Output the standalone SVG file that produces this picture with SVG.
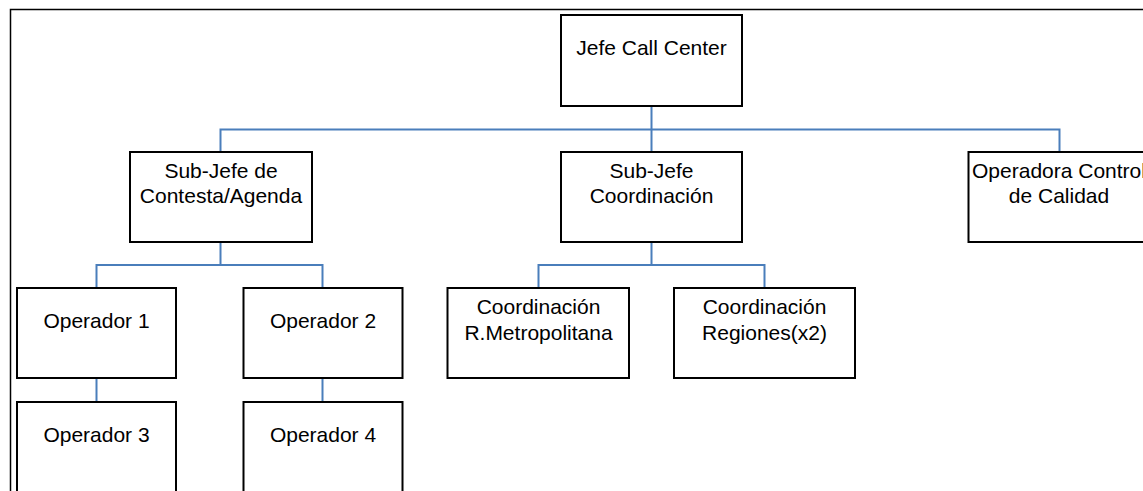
<svg xmlns="http://www.w3.org/2000/svg" width="1143" height="491" viewBox="0 0 1143 491">
<style>
.box{fill:#fff;stroke:#000;stroke-width:2}
.t{font-family:"Liberation Sans",Arial,sans-serif;font-size:21px;fill:#000;text-anchor:middle}
.c{fill:none;stroke:#4A7EBB;stroke-width:2}
.frame{fill:none;stroke:#000;stroke-width:1.5}
</style>
<rect width="1143" height="491" fill="#fff"/>
<path class="frame" d="M10.5 491 V9.5 H1143"/>
<g id="connectors">
<path class="c" d="M651.5 106 V152 M220.5 152 V129.5 H1059.5 V152"/>
<path class="c" d="M220.5 242 V265 M96.5 288 V265 H322.5 V288"/>
<path class="c" d="M651.5 242 V265 M538.5 288 V265 H764.5 V288"/>
<path class="c" d="M96.5 378 V402 M322.5 378 V402"/>
</g>
<g id="jefe"><rect class="box" x="561" y="15" width="181" height="91"/><text class="t" x="651.5" y="55">Jefe Call Center</text></g>
<g id="subjefe-contesta"><rect class="box" x="130" y="152" width="182" height="90"/><text class="t" x="221" y="177.5">Sub-Jefe de</text><text class="t" x="221" y="203">Contesta/Agenda</text></g>
<g id="subjefe-coord"><rect class="box" x="561" y="152" width="181" height="90"/><text class="t" x="651.5" y="177.5">Sub-Jefe</text><text class="t" x="651.5" y="203">Coordinación</text></g>
<g id="operadora-calidad"><rect class="box" x="968.5" y="152" width="181" height="90"/><text class="t" x="1059" y="177.5">Operadora Control</text><text class="t" x="1059" y="203">de Calidad</text></g>
<g id="operador1"><rect class="box" x="17" y="288" width="159" height="90"/><text class="t" x="96.5" y="327.5">Operador 1</text></g>
<g id="operador2"><rect class="box" x="243.5" y="288" width="159" height="90"/><text class="t" x="323" y="327.5">Operador 2</text></g>
<g id="operador3"><rect class="box" x="17" y="402" width="159" height="100"/><text class="t" x="96.5" y="441.5">Operador 3</text></g>
<g id="operador4"><rect class="box" x="243.5" y="402" width="159" height="100"/><text class="t" x="323" y="441.5">Operador 4</text></g>
<g id="coord-metro"><rect class="box" x="447.5" y="288" width="181.5" height="90"/><text class="t" x="538.5" y="313.5">Coordinación</text><text class="t" x="538.5" y="339.5">R.Metropolitana</text></g>
<g id="coord-regiones"><rect class="box" x="674" y="288" width="181" height="90"/><text class="t" x="764.5" y="313.5">Coordinación</text><text class="t" x="764.5" y="339.5">Regiones(x2)</text></g>
</svg>
